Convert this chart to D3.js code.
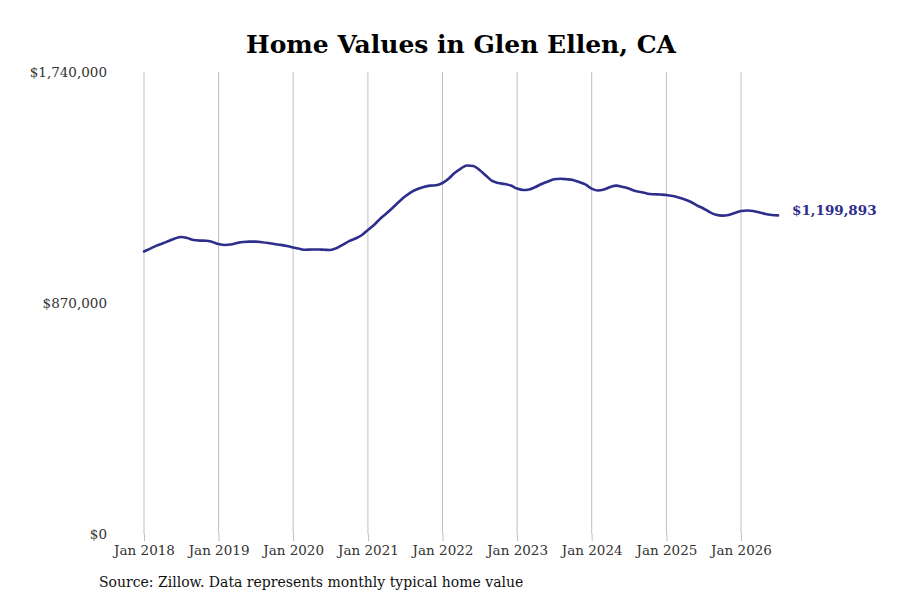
<!DOCTYPE html>
<html>
<head>
<meta charset="utf-8">
<script src="https://cdn.jsdelivr.net/npm/d3@7"></script>
<style>
  body { margin: 0; background: #fff; }
  svg { font-family: "DejaVu Serif", serif; }
</style>
</head>
<body>
<div id="chart"></div>
<script>
// Valores mensuales (ene 2018 - jul 2026)
const startMonth = "2018-01";
const homeValues = [
  1064000, 1075000, 1085000, 1094000, 1103500, 1113000, 1118500, 1115000, 1107000, 1105000, 1104500, 1100000,
  1092000, 1088500, 1090000, 1096000, 1100000, 1101000, 1101000, 1099000, 1096000, 1092000, 1089000, 1084700,
  1079000, 1074000, 1070500, 1071500, 1071500, 1070500, 1069500, 1077000, 1090000, 1103000, 1113000, 1125000,
  1145000, 1165000, 1186500, 1207000, 1228000, 1250500, 1271000, 1288000, 1299500, 1307000, 1312000, 1313500,
  1322000, 1339000, 1359500, 1376500, 1388000, 1386000, 1371000, 1350000, 1329500, 1322000, 1318000, 1312500,
  1301000, 1295500, 1297500, 1307000, 1318000, 1327500, 1336000, 1338000, 1336000, 1333000, 1325500, 1316500,
  1301000, 1293500, 1297500, 1307000, 1312000, 1307000, 1301000, 1292000, 1287500, 1281500, 1279500, 1278500,
  1277000, 1273000, 1267500, 1260000, 1250500, 1237000, 1226000, 1212500, 1202000, 1199000, 1201500, 1209000,
  1216500, 1218500, 1216500, 1211000, 1205000, 1201500, 1199893
];
const yTicks = [0, 870000, 1740000];
const xTickYears = [2018, 2019, 2020, 2021, 2022, 2023, 2024, 2025, 2026];

const title = "Home Values in Glen Ellen, CA";
const source = "Source: Zillow. Data represents monthly typical home value";

const width = 900, height = 600;
const lineColor = "#2e2e8c";

const parseMonth = d3.timeParse("%Y-%m");
const start = parseMonth(startMonth);
const data = homeValues.map((v, i) => ({ date: d3.timeMonth.offset(start, i), value: v }));

const svg = d3.select("#chart")
  .append("svg")
    .attr("width", width)
    .attr("height", height);

const x = d3.scaleTime()
  .domain(d3.extent(data, d => d.date))
  .range([144, 778]);

const y = d3.scaleLinear()
  .domain([0, 1740000])
  .range([534, 72]);

// Título
svg.append("text")
  .attr("x", 461)
  .attr("y", 53)
  .attr("text-anchor", "middle")
  .style("font-size", "25px")
  .style("font-weight", "bold")
  .text(title);

// Líneas verticales en cada enero
const xTickDates = xTickYears.map(yr => new Date(yr, 0, 1));
const xAxis = svg.append("g")
  .attr("transform", `translate(0,534)`)
  .call(d3.axisBottom(x)
    .tickValues(xTickDates)
    .tickSize(7)
    .tickFormat(d3.timeFormat("Jan %Y")));
xAxis.select(".domain").remove();
xAxis.selectAll(".tick line").attr("stroke", "#c0c0c0");
xAxis.selectAll(".tick text")
  .attr("y", 11)
  .style("font-family", "DejaVu Serif, serif")
  .style("font-size", "13.5px")
  .attr("fill", "#333");

svg.append("g")
  .selectAll("line")
  .data(xTickDates)
  .join("line")
    .attr("x1", d => x(d))
    .attr("x2", d => x(d))
    .attr("y1", y(1740000))
    .attr("y2", y(0))
    .attr("stroke", "#c0c0c0")
    .attr("stroke-width", 1);

// Eje Y sin línea
const yAxis = svg.append("g")
  .attr("transform", "translate(107,0)")
  .call(d3.axisLeft(y)
    .tickValues(yTicks)
    .tickSize(0)
    .tickFormat(d => "$" + d3.format(",")(d)));
yAxis.select(".domain").remove();
yAxis.selectAll(".tick text")
  .attr("x", 0)
  .style("font-family", "DejaVu Serif, serif")
  .style("font-size", "13.5px")
  .attr("fill", "#333");

// Línea de valores
svg.append("path")
  .datum(data)
  .attr("fill", "none")
  .attr("stroke", lineColor)
  .attr("stroke-width", 2.6)
  .attr("stroke-linejoin", "round")
  .attr("stroke-linecap", "round")
  .attr("d", d3.line()
    .x(d => x(d.date))
    .y(d => y(d.value))
    .curve(d3.curveMonotoneX));

// Etiqueta del último valor
const last = data[data.length - 1];
svg.append("text")
  .attr("x", x(last.date) + 14)
  .attr("y", y(last.value) - 5)
  .attr("dy", "0.35em")
  .style("font-size", "13.5px")
  .style("font-weight", "bold")
  .attr("fill", lineColor)
  .text("$" + d3.format(",")(last.value));

// Fuente
svg.append("text")
  .attr("x", 99)
  .attr("y", 587)
  .style("font-size", "14px")
  .attr("fill", "#111")
  .text(source);
</script>
</body>
</html>
